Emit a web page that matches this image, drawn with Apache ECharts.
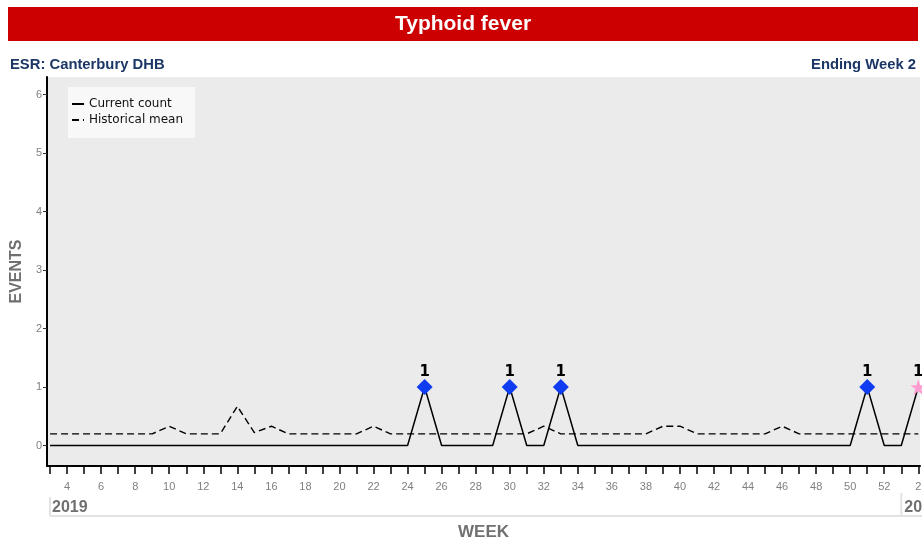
<!DOCTYPE html>
<html><head><meta charset="utf-8">
<script src="https://cdn.jsdelivr.net/npm/echarts@6/dist/echarts.min.js"></script>
<style>html,body{margin:0;padding:0;background:#fff}#c{width:922px;height:544px}</style>
</head><body><div id="c"></div>
<script>
// Week sequence shown on the axis (2019 week 3 .. 2020 week 2)
const weekLabels = ['3','4','5','6','7','8','9','10','11','12','13','14','15','16','17','18','19','20','21','22','23','24','25','26','27','28','29','30','31','32','33','34','35','36','37','38','39','40','41','42','43','44','45','46','47','48','49','50','51','52','1','2'];
const yearLabels = ['2019', '2020'];
const yearStartIndex = [0, 50];
const currentCount = [0,0,0,0,0,0,0,0,0,0, 0,0,0,0,0,0,0,0,0,0, 0,0,1,0,0,0,0,1,0,0, 1,0,0,0,0,0,0,0,0,0, 0,0,0,0,0,0,0,0,1,0, 0,1];
const historicalMean = [0.2,0.2,0.2,0.2,0.2,0.2,0.2,0.33,0.2,0.2, 0.2,0.67,0.22,0.33,0.2,0.2,0.2,0.2,0.2,0.33, 0.2,0.2,0.2,0.2,0.2,0.2,0.2,0.2,0.2,0.33, 0.2,0.2,0.2,0.2,0.2,0.2,0.33,0.33,0.2,0.2, 0.2,0.2,0.2,0.33,0.2,0.2,0.2,0.2,0.2,0.2, 0.2,0.2];
const yTicks = [0, 1, 2, 3, 4, 5, 6];
const chartTitle = 'Typhoid fever';
const subLeft = 'ESR: Canterbury DHB';
const subRight = 'Ending Week 2';

const STAR = 'path://M50,0 L61,35 L98,35 L68,57 L79,91 L50,70 L21,91 L32,57 L2,35 L39,35 Z';
const lastIdx = currentCount.length - 1;
const tickIdx = weekLabels.map((_, i) => i);
const labelIdx = weekLabels.map((w, i) => i).filter(i => parseInt(weekLabels[i]) % 2 === 0);
const markerData = currentCount.map((v, i) => v > 0 ? {
  value: [i, v],
  symbol: i === lastIdx ? STAR : 'diamond',
  symbolSize: 16,
  itemStyle: { color: i === lastIdx ? '#ff9dd2' : '#0f3cf0', opacity: 1 }
} : null).filter(d => d);

const chart = echarts.init(document.getElementById('c'), null, { renderer: 'canvas' });
const FONT = 'Liberation Sans, Arial, sans-serif';
chart.setOption({
  animation: false,
  grid: { left: 47, right: 2, top: 77, bottom: 78, show: true, backgroundColor: '#ebebeb', borderWidth: 0, containLabel: false, outerBoundsMode: 'none' },
  legend: {
    data: ['Current count', 'Historical mean'],
    orient: 'vertical', left: 68, top: 87,
    padding: [11, 12, 12, 3], itemGap: 4, itemWidth: 12, itemHeight: 12,
    backgroundColor: '#f8f8f8',
    itemStyle: { opacity: 0, borderWidth: 0 },
    textStyle: { fontFamily: 'DejaVu Sans', fontSize: 12, color: '#111' }
  },
  xAxis: {
    type: 'value', min: -0.18, max: 51.1,
    axisLine: { onZero: false, lineStyle: { color: '#000', width: 2 } },
    axisTick: { customValues: tickIdx, length: 8, lineStyle: { color: '#000', width: 1.5 } },
    axisLabel: { customValues: labelIdx, formatter: v => weekLabels[Math.round(v)], color: '#808080', fontSize: 11, fontFamily: FONT, margin: 15 },
    splitLine: { show: false },
    name: 'WEEK', nameLocation: 'middle', nameGap: 58,
    nameTextStyle: { fontFamily: FONT, fontWeight: 'bold', fontSize: 17, color: '#707070' }
  },
  yAxis: {
    type: 'value', min: -0.35, max: 6.3,
    axisLine: { show: true, onZero: false, lineStyle: { color: '#000', width: 2 } },
    axisTick: { show: true, customValues: yTicks, length: 4, lineStyle: { color: '#333', width: 1 } },
    axisLabel: { customValues: yTicks, color: '#808080', fontSize: 11, fontFamily: FONT, margin: 5 },
    splitLine: { show: false },
    name: 'EVENTS', nameLocation: 'middle', nameGap: 21,
    nameTextStyle: { fontFamily: FONT, fontWeight: 'bold', fontSize: 16, color: '#707070' }
  },
  series: [
    { name: 'Current count', type: 'line', symbol: 'none', data: currentCount.map((v, i) => [i, v]),
      lineStyle: { color: '#000', width: 1.5 }, itemStyle: { color: '#000' }, z: 3 },
    { name: 'Historical mean', type: 'line', symbol: 'none', data: historicalMean.map((v, i) => [i, v]),
      lineStyle: { color: '#000', width: 1.4, type: [7, 4] }, itemStyle: { color: '#000' }, z: 2 },
    { name: 'alerts', type: 'scatter', data: markerData, z: 5,
      label: { show: true, position: 'top', distance: -1, formatter: p => p.value[1], color: '#000', fontFamily: 'DejaVu Sans', fontWeight: 'bold', fontSize: 15 } }
  ]
});

const x0 = chart.convertToPixel({ xAxisIndex: 0 }, yearStartIndex[0]);
const x1 = chart.convertToPixel({ xAxisIndex: 0 }, yearStartIndex[1]);
chart.setOption({
  graphic: [
    { type: 'rect', shape: { x: 8, y: 7, width: 910, height: 34 }, style: { fill: '#cc0000' } },
    { type: 'text', x: 463, y: 24, style: { text: chartTitle, fill: '#fff', font: 'bold 21px Liberation Sans', align: 'center', verticalAlign: 'middle' } },
    { type: 'text', x: 10, y: 65, style: { text: subLeft, fill: '#1c3766', font: 'bold 14.8px Liberation Sans', align: 'left', verticalAlign: 'middle' } },
    { type: 'text', x: 916, y: 65, style: { text: subRight, fill: '#1c3766', font: 'bold 14.8px Liberation Sans', align: 'right', verticalAlign: 'middle' } },
    { type: 'line', shape: { x1: x0, y1: 497, x2: x0, y2: 516 }, style: { stroke: '#e2e2e2', lineWidth: 2 } },
    { type: 'line', shape: { x1: x0, y1: 516, x2: 922, y2: 516 }, style: { stroke: '#e2e2e2', lineWidth: 2 } },
    { type: 'line', shape: { x1: x1, y1: 493, x2: x1, y2: 515 }, style: { stroke: '#e2e2e2', lineWidth: 2 } },
    { type: 'text', x: x0 + 2, y: 508, style: { text: yearLabels[0], fill: '#707070', font: 'bold 16px Liberation Sans', align: 'left', verticalAlign: 'middle' } },
    { type: 'text', x: x1 + 3, y: 508, style: { text: yearLabels[1], fill: '#707070', font: 'bold 16px Liberation Sans', align: 'left', verticalAlign: 'middle' } }
  ]
});
</script></body></html>
